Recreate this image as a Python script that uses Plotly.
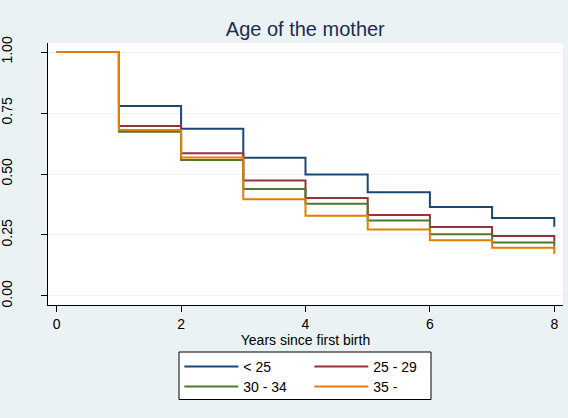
import plotly.graph_objects as go

years = [0, 1, 2, 3, 4, 5, 6, 7, 8]
age_lt25 = [1.0, 0.779, 0.686, 0.567, 0.498, 0.425, 0.365, 0.320, 0.284]
age_25_29 = [1.0, 0.697, 0.585, 0.473, 0.402, 0.332, 0.283, 0.246, 0.223]
age_30_34 = [1.0, 0.673, 0.557, 0.439, 0.378, 0.309, 0.253, 0.219, 0.202]
age_35p = [1.0, 0.680, 0.568, 0.397, 0.329, 0.272, 0.228, 0.198, 0.172]

names = ["< 25", "25 - 29", "30 - 34", "35 -"]
series = [age_lt25, age_25_29, age_30_34, age_35p]
colors = ["#1a476f", "#90353b", "#55752f", "#e37e00"]
legends = ["legend", "legend", "legend2", "legend2"]

x_ticks = [0, 2, 4, 6, 8]
y_ticks = [0, 0.25, 0.5, 0.75, 1.0]

BG = "#eaf2f3"
FONT = "Liberation Sans, Arial, sans-serif"

fig = go.Figure()
for nm, ys, c, lg in zip(names, series, colors, legends):
    fig.add_trace(go.Scatter(x=years, y=ys, name=nm, mode="lines",
                             line=dict(color=c, width=2, shape="hv"),
                             legend=lg))

legend_common = dict(orientation="h", xanchor="left", yanchor="middle",
                     bgcolor="rgba(0,0,0,0)", borderwidth=0,
                     font=dict(size=14, color="black", family=FONT),
                     itemwidth=54, entrywidth=61, entrywidthmode="pixels",
                     tracegroupgap=0, itemclick=False, itemdoubleclick=False)

fig.update_layout(
    width=568, height=418,
    margin=dict(l=48, r=5, t=43, b=113, autoexpand=False),
    paper_bgcolor=BG, plot_bgcolor="white",
    font=dict(family=FONT, size=14, color="black"),
    title=dict(text="Age of the mother", x=0.5375, xanchor="center",
               y=1 - 29 / 418, yanchor="middle",
               font=dict(size=20, color="#1e2d50", family=FONT)),
    showlegend=True,
    legend=dict(x=0.255, y=(305 - 367) / 262, **legend_common),
    legend2=dict(x=0.255, y=(305 - 387) / 262, **legend_common),
    xaxis=dict(range=[-0.14, 8.14], tickvals=x_ticks, ticktext=[str(v) for v in x_ticks],
               showline=True, linecolor="black", linewidth=1,
               ticks="outside", ticklen=6, tickcolor="black",
               showgrid=False, zeroline=False, automargin=False,
               tickfont=dict(size=14),
               title=dict(text="Years since first birth", font=dict(size=14), standoff=1)),
    yaxis=dict(range=[-0.037, 1.037], tickvals=y_ticks, tickformat=".2f",
               showline=True, linecolor="black", linewidth=1,
               ticks="outside", ticklen=6, tickcolor="black",
               showgrid=True, gridcolor=BG, gridwidth=1, zeroline=False, automargin=False,
               tickangle=-90, ticklabelstandoff=23, tickfont=dict(size=14)),
    shapes=[dict(type="rect", xref="paper", yref="paper",
                 x0=(179 - 48) / 515, x1=(431 - 48) / 515,
                 y0=(305 - 399.5) / 262, y1=(305 - 352) / 262,
                 fillcolor="white", line=dict(color="black", width=1), layer="above")],
)

fig.write_html("out.html", config={"displayModeBar": False},
               post_script="document.body.style.margin='0';document.body.style.overflow='hidden';")
